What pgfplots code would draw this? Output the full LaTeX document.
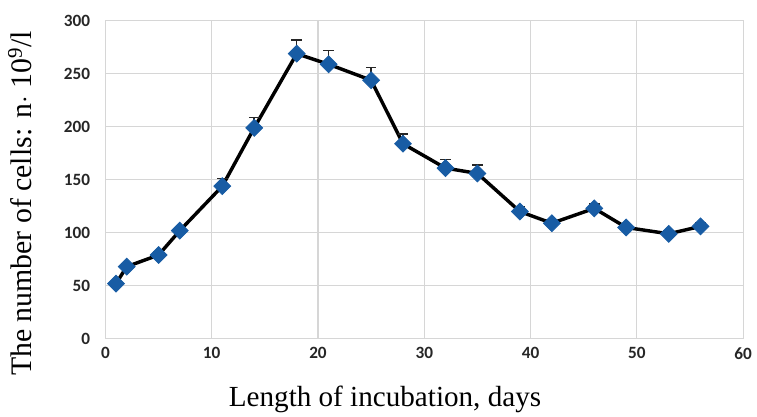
\documentclass[border=0pt]{standalone}
\usepackage{pgfplots}
\pgfplotsset{compat=1.18}
\usepackage{fontspec}
\setmainfont{Liberation Serif}
\newfontfamily\tickfont{Carlito}
\definecolor{mkblue}{RGB}{24,92,164}
\definecolor{gridgray}{RGB}{214,214,214}
\begin{document}
\begin{tikzpicture}
\begin{axis}[
  scale only axis,
  width=481.5pt, height=240pt,
  xmin=0, xmax=60, ymin=0, ymax=300,
  xtick={0,10,...,60}, ytick={0,50,...,300},
  grid=major,
  major grid style={gridgray, line width=0.8pt},
  axis line style={gridgray, line width=0.8pt},
  tick style={draw=none},
  /pgf/number format/assume math mode=true,
  ticklabel style={font=\tickfont\bfseries\fontsize{13}{14}\selectfont, text=black!85},
  yticklabel style={xshift=-8pt},
  xticklabel style={yshift=-3pt},
  xlabel={Length of incubation, days},
  ylabel={The number of cells: n$\cdot$ 10\textsuperscript{9}/l},
  xlabel style={font=\fontsize{22}{23}\selectfont, at={(axis description cs:0.4385,0)}, anchor=base, yshift=-51pt},
  ylabel style={name=ylab, font=\fontsize{22.5}{23}\selectfont, at={(axis description cs:-0.1075,0.425)}, anchor=south},
]
\addplot[black, line width=2.6pt, mark=square*, mark size=4.5pt,
  mark options={rotate=45, fill=mkblue, draw=mkblue, line width=0.6pt},
  error bars/.cd, y dir=plus, y explicit,
  error bar style={black!85, line width=1.1pt},
  error mark options={rotate=90, mark size=4pt, black!85, line width=1.1pt}]
table[x=x, y=y, y error=e] {
x y e
1 52 3
2 68 3
5 79 3
7 102 3
11 144 7
14 199 10
18 269 13
21 259 13
25 244 12
28 184 9
32 161 8
35 156 8
39 120 5
42 109 3
46 123 4
49 105 3
53 99 3
56 106 3
};
\end{axis}
\path ([yshift=15.75pt]current axis.north east);
\path ([xshift=10.5pt]current axis.east);
\path ([xshift=-2.5pt]ylab.north);
\end{tikzpicture}
\end{document}
